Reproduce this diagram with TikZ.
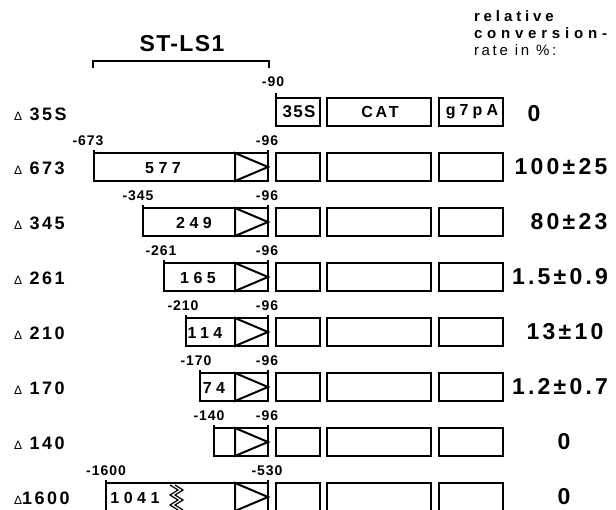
\documentclass[tikz,border=0pt]{standalone}
\usepackage{fontspec}
\setmainfont{Liberation Sans}
\newcommand\ls[3]{{\fontsize{#1}{#1}\selectfont\addfontfeature{LetterSpace=#2}#3}}
\newcommand\dlt{{\mdseries\fontsize{12}{12}\selectfont Δ}}
\begin{document}
\begin{tikzpicture}[x=1pt,y=-1pt,line width=2pt,
  bx/.style={draw,rectangle,inner sep=0pt,outer sep=0pt,minimum height=28pt,anchor=north west},
  lbl/.style={inner sep=0pt,font=\bfseries}]
\clip (0,0) rectangle (616,509);
% title and bracket
\node[lbl] (title) at (182,44) {\ls{23}{6}{ST-LS1}};
\coordinate (bl) at (93,68);
\coordinate (br) at (269,68);
\draw (bl) -- ++(0,-7) -| (br);
% header
\node[lbl,anchor=west] (h1) at (473,16) {\ls{15}{26}{relative}};
\node[lbl,anchor=west] (h2) at (473,33) {\ls{15}{32}{conversion-}};
\node[inner sep=0pt,anchor=west] (h3) at (473,50) {\ls{15}{18}{rate in \%:}};
% row 0
\node[bx,minimum width=44pt] (s0) at (276,98) {};
\node[bx,minimum width=104pt] (c0) at (327,98) {};
\node[bx,minimum width=64pt] (g0) at (439,98) {};
\draw (s0.north west) -- ++(0,-5);
\node[lbl] (s0t) at (299,112) {\ls{17}{8}{35S}};
\node[lbl] (c0t) at (380,112) {\ls{16}{18}{CAT}};
\node[lbl] (g0t) at (472,112) {\ls{16}{26}{g7pA}};
\node[lbl,anchor=west] (n0) at (13,114) {\dlt\ls{18}{14}{\ 35S}};
\node[lbl] (p0) at (273,82) {\ls{14}{7}{-90}};
\node[lbl] (v0) at (534,114) {\ls{23}{14}{0}};
% rows 1..7
\foreach \i/\L/\nm/\pos/\px/\bl/\bxx/\val/\vx/\mk in {
  1/94/{\ 673}/-673/88/577/163/100±25/561/-96,
  2/143/{\ 345}/-345/138/249/194/80±23/569/-96,
  3/164/{\ 261}/-261/161/165/198/1.5±0.9/560/-96,
  4/186/{\ 210}/-210/183/114/205/13±10/565/-96,
  5/200/{\ 170}/-170/196/74/214/1.2±0.7/560/-96,
  6/214/{\ 140}/-140/209/{}/230/0/564/-96,
  7/106/{1600}/-1600/106/1041/135/0/564/-530}{
  \pgfmathsetmacro\T{98+55*\i}
  \pgfmathsetmacro\W{268-\L}
  \node[bx,minimum width=\W pt] (st\i) at (\L,\T) {};
  \node[bx,minimum width=44pt] (s\i) at (276,\T) {};
  \node[bx,minimum width=104pt] (c\i) at (327,\T) {};
  \node[bx,minimum width=64pt] (g\i) at (439,\T) {};
  \draw (st\i.north west) -- ++(0,-3);
  \draw (st\i.north east) -- ++(0,-3);
  \draw ([xshift=-33pt]st\i.north east) -- (st\i.east) -- ([xshift=-33pt]st\i.south east) -- cycle;
  \node[lbl,anchor=west] (n\i) at (13,\T+15) {\dlt\ls{18}{14}{\nm}};
  \node[lbl] (p\i) at (\px,\T-12) {\ls{14}{7}{\pos}};
  \node[lbl] (q\i) at (267,\T-12) {\ls{14}{7}{\mk}};
  \node[lbl] (b\i) at (\bxx,\T+15) {\ls{16}{28}{\bl}};
  \node[lbl] (v\i) at (\vx,\T+14) {\ls{23}{14}{\val}};
}
% break symbol in row 7
\draw[line width=1.2pt] (170,485) -- (178,490) -- (170,495) -- (178,500) -- (170,505) -- (178,510);
\draw[line width=1.2pt] (175,485) -- (183,490) -- (175,495) -- (183,500) -- (175,505) -- (183,510);
\end{tikzpicture}
\end{document}
